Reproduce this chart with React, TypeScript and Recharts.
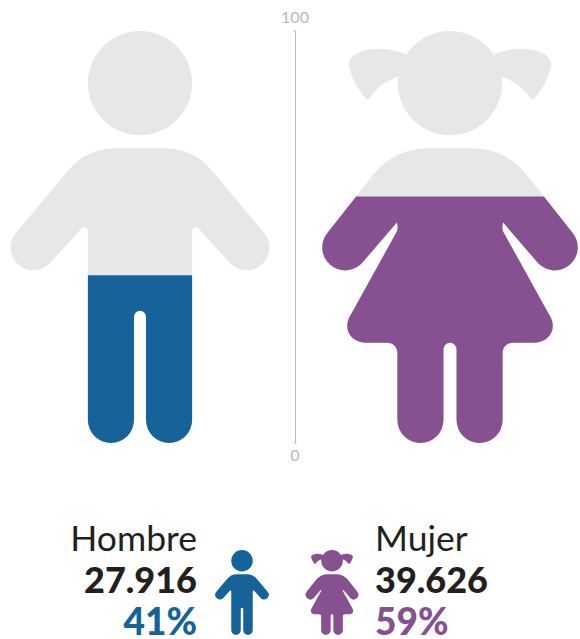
import { BarChart, Bar, Cell, XAxis, YAxis } from "recharts";

const categories = ["Hombre", "Mujer"];
const fillLevels = [40.7, 59.8]; // height of the coloured part, read against the 0-100 axis
const counts = ["27.916", "39.626"];
const shares = ["41%", "59%"];
const axisTicks = [0, 100];
const colors = ["#156399", "#865091"];

const GREY = "#e6e7e9";
const INK = "#231f20";
const FONT = "Lato, sans-serif";
const PLOT_TOP = 31;

// silhouettes, drawn in a 411 tall box with x = 0 on the centre line
const BOY =
  "M-52 52a52 52 0 1 0 104 0a52 52 0 1 0 -104 0Z" +
  "M-23 117L23 117C46 117 61 126 73 141L124.2 201.9A22.7 22.7 0 0 1 90.4 232.1L58.5 197C56 194 52 195 52 201" +
  "L52 388A23 23 0 0 1 6 388L6 285A6 6 0 0 0 -6 285L-6 388A23 23 0 0 1 -52 388L-52 201" +
  "C-52 195 -56 194 -58.5 197L-90.4 232.1A22.7 22.7 0 0 1 -124.2 201.9L-73 141C-61 126 -46 117 -23 117Z";

const GIRL =
  "M-52 52a52 52 0 1 0 104 0a52 52 0 1 0 -104 0Z" +
  "M52 46C63 49 72 56 80 66C81 68 83 69 84 67C92 59 98 47 101 35C102 28 96 23 87 20C75 16 60 17 44 23Z" +
  "M-44 23C-60 17 -75 16 -87 20C-96 23 -102 28 -101 35C-98 47 -92 59 -84 67C-83 69 -81 68 -80 66C-72 56 -63 49 -52 46Z" +
  "M-20 117L20 117C45 117 62 126 77 144L122.6 201.7A23 23 0 0 1 88.4 232.3L53 191C52 194 52 198 53 200L99 283" +
  "C108 297 99 311 83 311L63 311C57 311 52.5 315 52.5 321L52.5 388A23 23 0 0 1 6.5 388L6.5 317.5A6.5 6.5 0 0 0 -6.5 317.5" +
  "L-6.5 388A23 23 0 0 1 -52.5 388L-52.5 321C-52.5 315 -57 311 -63 311L-83 311C-99 311 -108 297 -99 283L-53 200" +
  "C-52 198 -52 194 -53 191L-88.4 232.3A23 23 0 0 1 -122.6 201.7L-77 144C-62 126 -45 117 -20 117Z";

const shapes = [BOY, GIRL];

const data = categories.map((name, i) => ({ name, level: fillLevels[i] }));

function FigureBar(props: any) {
  const { x, y, width, height, index, value } = props;
  const level = Array.isArray(value) ? value[1] : value;
  const full = (height * 100) / level;
  const top = y + height - full;
  const k = full / 411;
  const cx = x + width / 2;
  const d = shapes[index];
  const id = `fill-clip-${index}`;
  return (
    <g>
      <defs>
        <clipPath id={id}>
          <rect x={x - 100} y={y} width={width + 200} height={height + 2} />
        </clipPath>
      </defs>
      <path d={d} fill={GREY} transform={`translate(${cx} ${top}) scale(${k})`} />
      <g clipPath={`url(#${id})`}>
        <path d={d} fill={colors[index]} transform={`translate(${cx} ${top}) scale(${k})`} />
      </g>
    </g>
  );
}

function AxisTick(props: any) {
  const { y, payload } = props;
  const mid = 295.5; // the value axis sits on the line between the two figures
  const isTop = payload.value === 100;
  return (
    <g>
      {!isTop && <line x1={mid} x2={mid} y1={PLOT_TOP} y2={y} stroke="#bdbdbd" />}
      <line x1={mid - 2} x2={mid + 1} y1={y} y2={y} stroke="#bdbdbd" />
      <text x={mid - 0.5} y={isTop ? y - 8 : y + 18} textAnchor="middle" fontFamily={FONT} fontSize={16} fill="#b8b8b8">
        {payload.value}
      </text>
    </g>
  );
}

function LegendItem({ i }: { i: number }) {
  const left = i === 0;
  const textX = left ? 197 : 375;
  const anchor = left ? "end" : "start";
  const iconX = left ? 242 : 332;
  return (
    <g fontFamily={FONT} textAnchor={anchor}>
      <text x={textX} y={551} fontSize={35.5} fontWeight={400} fill={INK}>
        {categories[i]}
      </text>
      <text x={textX} y={593} fontSize={36} fontWeight={900} fill={INK}>
        {counts[i]}
      </text>
      <path d={shapes[i]} fill={colors[i]} transform={`translate(${iconX} 550) scale(${85 / 411})`} />
    </g>
  );
}

function ShareText({ i }: { i: number }) {
  const side = i === 0 ? { right: 580 - 197, textAlign: "right" as const } : { left: 375, textAlign: "left" as const };
  return (
    <div
      style={{
        position: "absolute",
        top: 606,
        height: 30,
        lineHeight: "30px",
        fontFamily: FONT,
        fontSize: 37,
        fontWeight: 900,
        color: colors[i],
        ...side,
      }}
    >
      {shares[i]}
    </div>
  );
}

export default function App() {
  return (
    <div style={{ position: "absolute", left: 0, top: 0, width: 580, height: 639, overflow: "hidden" }}>
      <BarChart
        width={580}
        height={639}
        data={data}
        barCategoryGap={0}
        margin={{ top: PLOT_TOP, right: -25, bottom: 196, left: -16 }}
      >
        <XAxis dataKey="name" hide />
        <YAxis
          type="number"
          domain={[0, 100]}
          ticks={axisTicks}
          width={1}
          axisLine={false}
          tickLine={false}
          tick={<AxisTick />}
          interval={0}
        />
        <Bar dataKey="level" shape={<FigureBar />} isAnimationActive={false}>
          {data.map((d, i) => (
            <Cell key={d.name} fill={colors[i]} />
          ))}
        </Bar>
      </BarChart>
      <svg width={580} height={639} style={{ position: "absolute", left: 0, top: 0, pointerEvents: "none" }}>
        <LegendItem i={0} />
        <LegendItem i={1} />
      </svg>
      <ShareText i={0} />
      <ShareText i={1} />
    </div>
  );
}
